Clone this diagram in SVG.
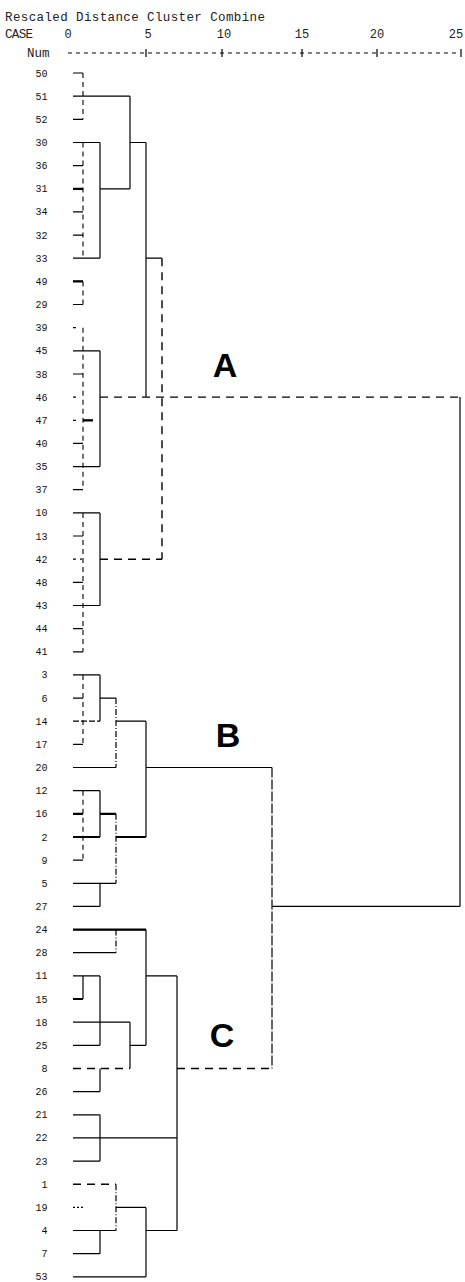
<svg xmlns="http://www.w3.org/2000/svg" width="465" height="1282" viewBox="0 0 465 1282">
<style>
.bg{fill:#fff}
.l{stroke:#000;stroke-width:1.2;fill:none}
.d{stroke:#000;stroke-width:1.4;fill:none;stroke-dasharray:8 6}
.s{stroke:#000;stroke-width:1.1;fill:none;stroke-dasharray:5 4}
.dd{stroke:#000;stroke-width:1.2;fill:none;stroke-dasharray:6 2 1 2}
.v{stroke:#000;stroke-width:1.2;fill:none;stroke-dasharray:10 2}
.k{stroke:#000;stroke-width:2.2;fill:none}
.t{font-family:"Liberation Mono","DejaVu Sans Mono",monospace;font-size:10px;fill:#111;text-anchor:end}
.h{font-family:"Liberation Mono","DejaVu Sans Mono",monospace;font-size:12.5px;fill:#222}
.n{font-family:"Liberation Mono","DejaVu Sans Mono",monospace;font-size:12px;fill:#222;text-anchor:middle}
.big{font-family:"Liberation Sans",Arial,sans-serif;font-weight:bold;font-size:34px;fill:#000;text-anchor:middle}
</style>
<rect class="bg" x="0" y="0" width="465" height="1282"/>
<g id="header">
<text class="h" x="5" y="21" textLength="260">Rescaled Distance Cluster Combine</text>
<text class="h" x="5" y="38" textLength="28" font-size="10">CASE</text>
<text class="n" x="68" y="38">0</text>
<text class="n" x="148" y="38">5</text>
<text class="n" x="224" y="38">10</text>
<text class="n" x="302" y="38">15</text>
<text class="n" x="377" y="38">20</text>
<text class="n" x="456" y="38">25</text>
<text class="h" x="27" y="57" font-size="10.5">Num</text>
<path class="l" d="M68 53H460" stroke-dasharray="4 4" stroke-width="1"/>
<path class="l" d="M146 49V57M222 49V57M302 49V57M377 49V57M461 49V57" stroke-width="1"/>
</g>
<g id="connectors">
<path class="l" d="M73 73H83M73 119.3H83M73 96.2H130M130 96.2V188.8
M73 142.5H100M73 165.6H83M73 211.9H83M73 235.1H83M73 258.2H100M100 142.5V258.2M100 188.8H130
M130 142.5H146M146 142.5V397.1M146 258.2H162
M73 281.4H83M73 304.5H83
M73 350.8H100M73 374H83M83 420.3H93M73 443.4H83M73 466.6H100M73 489.7H83M100 350.8V466.6
M73 512.9H100M73 536H83M73 582.3H83M73 605.5H100M73 628.6H83M73 651.8H83M100 512.9V605.5
M73 674.9H100M73 698.1H83M100 698.1H116M116 721.2H146M73 744.4H83M73 767.5H116M100 674.9V721.2
M146 721.2V837M146 767.5H272
M73 790.7H100M73 813.8H83M100 813.8H116M73 837H100M116 837H146M73 860.1H83M73 883.3H116M73 906.4H100
M100 790.7V837M100 883.3V906.4
M272 906.4H460M460 397.1V906.4
M73 929.6H146M73 952.7H116M146 929.6V1045.3
M73 975.9H100M146 975.9H177M73 999H83M83 975.9V999M100 975.9V1045.3
M73 1022.2H130M73 1045.3H100M130 1045.3H146M130 1022.2V1068.5
M73 1091.6H100M100 1068.5V1091.6M177 975.9V1230.5
M73 1114.8H100M73 1137.9H177M73 1161.1H100M100 1114.8V1161.1
M73 1230.5H116M116 1207.4H146M146 1207.4V1276.8M146 1230.5H177
M73 1253.7H100M100 1230.5V1253.7M73 1276.8H146"/>
<path class="l" d="M73 721.2H100" stroke-dasharray="6 2"/>
<path class="k" d="M73 188.8H83M73 281.4H83M83 420.3H93M73 999H83M73 813.8H83M100 813.8H116M73 837H100M116 837H146M73 929.6H146"/>
<path class="d" d="M100 397.1H460M162 258.2V559.2M100 559.2H162M73 1068.5H130M177 1068.5H272"/>
<path class="s" d="M83 73V119.3M83 142.5V258.2M83 281.4V304.5M83 327.7V489.7M83 512.9V651.8M83 674.9V744.4M83 790.7V860.1"/>
<path class="dd" d="M116 698.1V767.5M116 813.8V883.3M116 929.6V952.7M116 1184.2V1230.5"/>
<path class="d" d="M73 1184.2H116" stroke-dasharray="7 3"/>
<path class="l" d="M73 1207.4H83" stroke-dasharray="2 2"/>
<path class="v" d="M272 767.5V1068.5"/>
<path class="l" d="M73 327.7H76M73 397.1H76M73 420.3H76M73 559.2H76M80 559.2H82"/>
</g>
<g id="leaves">
<g id="n50"><text class="t" x="47.5" y="76.5">50</text></g>
<g id="n51"><text class="t" x="47.5" y="99.7">51</text></g>
<g id="n52"><text class="t" x="47.5" y="122.8">52</text></g>
<g id="n30"><text class="t" x="47.5" y="146">30</text></g>
<g id="n36"><text class="t" x="47.5" y="169.1">36</text></g>
<g id="n31"><text class="t" x="47.5" y="192.3">31</text></g>
<g id="n34"><text class="t" x="47.5" y="215.4">34</text></g>
<g id="n32"><text class="t" x="47.5" y="238.6">32</text></g>
<g id="n33"><text class="t" x="47.5" y="261.7">33</text></g>
<g id="n49"><text class="t" x="47.5" y="284.9">49</text></g>
<g id="n29"><text class="t" x="47.5" y="308">29</text></g>
<g id="n39"><text class="t" x="47.5" y="331.2">39</text></g>
<g id="n45"><text class="t" x="47.5" y="354.3">45</text></g>
<g id="n38"><text class="t" x="47.5" y="377.5">38</text></g>
<g id="n46"><text class="t" x="47.5" y="400.6">46</text></g>
<g id="n47"><text class="t" x="47.5" y="423.8">47</text></g>
<g id="n40"><text class="t" x="47.5" y="446.9">40</text></g>
<g id="n35"><text class="t" x="47.5" y="470.1">35</text></g>
<g id="n37"><text class="t" x="47.5" y="493.2">37</text></g>
<g id="n10"><text class="t" x="47.5" y="516.4">10</text></g>
<g id="n13"><text class="t" x="47.5" y="539.5">13</text></g>
<g id="n42"><text class="t" x="47.5" y="562.7">42</text></g>
<g id="n48"><text class="t" x="47.5" y="585.8">48</text></g>
<g id="n43"><text class="t" x="47.5" y="609">43</text></g>
<g id="n44"><text class="t" x="47.5" y="632.1">44</text></g>
<g id="n41"><text class="t" x="47.5" y="655.3">41</text></g>
<g id="n3"><text class="t" x="47.5" y="678.4">3</text></g>
<g id="n6"><text class="t" x="47.5" y="701.6">6</text></g>
<g id="n14"><text class="t" x="47.5" y="724.7">14</text></g>
<g id="n17"><text class="t" x="47.5" y="747.9">17</text></g>
<g id="n20"><text class="t" x="47.5" y="771">20</text></g>
<g id="n12"><text class="t" x="47.5" y="794.2">12</text></g>
<g id="n16"><text class="t" x="47.5" y="817.3">16</text></g>
<g id="n2"><text class="t" x="47.5" y="840.5">2</text></g>
<g id="n9"><text class="t" x="47.5" y="863.6">9</text></g>
<g id="n5"><text class="t" x="47.5" y="886.8">5</text></g>
<g id="n27"><text class="t" x="47.5" y="909.9">27</text></g>
<g id="n24"><text class="t" x="47.5" y="933.1">24</text></g>
<g id="n28"><text class="t" x="47.5" y="956.2">28</text></g>
<g id="n11"><text class="t" x="47.5" y="979.4">11</text></g>
<g id="n15"><text class="t" x="47.5" y="1002.5">15</text></g>
<g id="n18"><text class="t" x="47.5" y="1025.7">18</text></g>
<g id="n25"><text class="t" x="47.5" y="1048.8">25</text></g>
<g id="n8"><text class="t" x="47.5" y="1072">8</text></g>
<g id="n26"><text class="t" x="47.5" y="1095.1">26</text></g>
<g id="n21"><text class="t" x="47.5" y="1118.3">21</text></g>
<g id="n22"><text class="t" x="47.5" y="1141.4">22</text></g>
<g id="n23"><text class="t" x="47.5" y="1164.6">23</text></g>
<g id="n1"><text class="t" x="47.5" y="1187.7">1</text></g>
<g id="n19"><text class="t" x="47.5" y="1210.9">19</text></g>
<g id="n4"><text class="t" x="47.5" y="1234">4</text></g>
<g id="n7"><text class="t" x="47.5" y="1257.2">7</text></g>
<g id="n53"><text class="t" x="47.5" y="1280.3">53</text></g>
</g>
<g id="clusterA"><text class="big" x="225" y="377">A</text></g>
<g id="clusterB"><text class="big" x="228" y="747">B</text></g>
<g id="clusterC"><text class="big" x="222" y="1047">C</text></g>
</svg>
